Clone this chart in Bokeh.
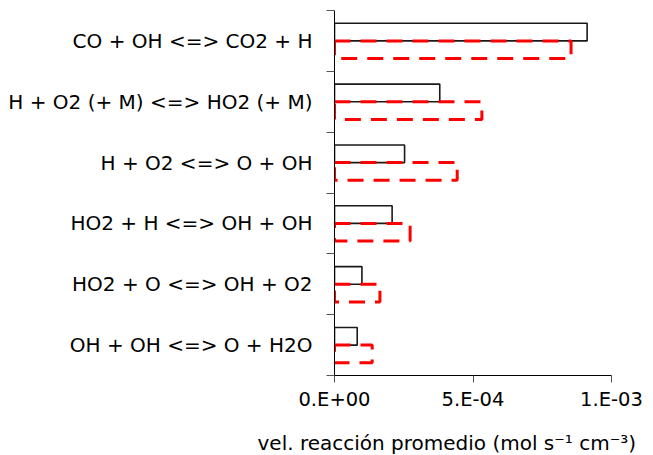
from bokeh.plotting import figure
from bokeh.models import Range1d, FixedTicker, Title
from bokeh.embed import file_html
from bokeh.resources import INLINE

# ---- data (top to bottom) ----
categories = [
    "CO + OH <=> CO2 + H",
    "H + O2 (+ M) <=> HO2 (+ M)",
    "H + O2 <=> O + OH",
    "HO2 + H <=> OH + OH",
    "HO2 + O <=> OH + O2",
    "OH + OH <=> O + H2O",
]
series_black = [9.12e-4, 3.80e-4, 2.53e-4, 2.08e-4, 0.99e-4, 0.82e-4]
series_red = [8.54e-4, 5.32e-4, 4.43e-4, 2.73e-4, 1.64e-4, 1.36e-4]
x_ticks = [0.0, 5e-4, 1e-3]
x_tick_labels = ["0.E+00", "5.E-04", "1.E-03"]
x_title = "vel. reacción promedio (mol s\u207b\u00b9 cm\u207b\u00b3)"

n = len(categories)
centers = [n - 0.5 - i for i in range(n)]
bar_h = 0.29
off = 0.145

FONT = "DejaVu Sans"

p = figure(frame_width=277, frame_height=365, output_backend="svg", toolbar_location=None,
           min_border_left=334, min_border_right=42, min_border_top=10, min_border_bottom=80,
           x_range=Range1d(0, 1e-3), y_range=Range1d(0, n))
p.outline_line_color = None
p.xgrid.visible = False
p.ygrid.visible = False
p.background_fill_color = "white"

p.hbar(y=[c + off for c in centers], right=series_black, left=0, height=bar_h,
       fill_color="white", line_color="#1a1a1a", line_width=1.6)
p.hbar(y=[c - off for c in centers], right=series_red, left=0, height=bar_h,
       fill_color=None, line_color="#ff0000", line_width=3, line_dash="16 10")

# y axis
ya = p.yaxis[0]
ya.ticker = FixedTicker(ticks=centers, minor_ticks=list(range(n + 1)))
ya.major_label_overrides = {float(c): lab for c, lab in zip(centers, categories)}
ya.major_tick_line_color = None
ya.major_tick_out = 0
ya.major_tick_in = 0
ya.minor_tick_line_color = "#555555"
ya.minor_tick_out = 8
ya.minor_tick_in = 0
ya.axis_line_color = "black"
ya.major_label_standoff = 14
ya.major_label_text_font = FONT
ya.major_label_text_font_size = "20px"
ya.major_label_text_color = "black"

# x axis
xa = p.xaxis[0]
xa.ticker = FixedTicker(ticks=x_ticks)
xa.major_label_overrides = {float(t): lab for t, lab in zip(x_ticks, x_tick_labels)}
xa.minor_tick_line_color = None
xa.major_tick_out = 7
xa.major_tick_in = 0
xa.major_tick_line_color = "#555555"
xa.axis_line_color = "black"
xa.major_label_standoff = 5
xa.major_label_text_font = FONT
xa.major_label_text_font_size = "19.5px"
xa.major_label_text_color = "black"

t = Title(text=x_title, align="left", offset=-77, text_font=FONT,
          text_font_size="20px", text_font_style="normal", text_color="black",
          standoff=30)
p.add_layout(t, "below")

open("out.html", "w").write(file_html(p, INLINE))
